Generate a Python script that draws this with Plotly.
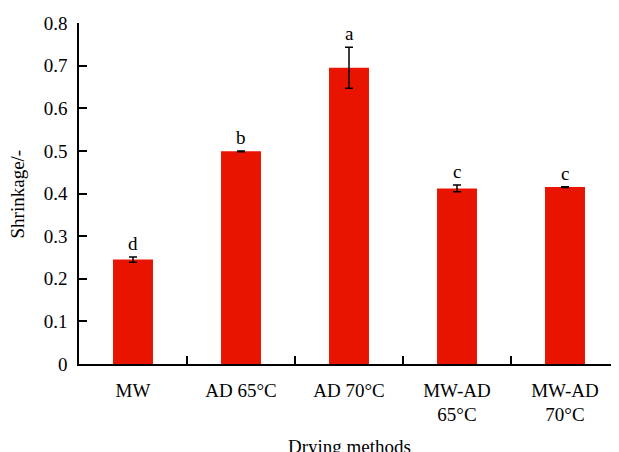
import plotly.graph_objects as go

categories = ["MW", "AD 65°C", "AD 70°C", "MW-AD<br>65°C", "MW-AD<br>70°C"]
shrinkage = [0.245, 0.499, 0.695, 0.412, 0.415]
errors = [0.006, 0.001, 0.048, 0.008, 0.001]
letters = ["d", "b", "a", "c", "c"]
y_ticks = [0, 0.1, 0.2, 0.3, 0.4, 0.5, 0.6, 0.7, 0.8]
y_tick_text = ["0", "0.1", "0.2", "0.3", "0.4", "0.5", "0.6", "0.7", "0.8"]

FONT = "Liberation Serif"
FS = 19

fig = go.Figure()
fig.add_trace(go.Bar(
    x=categories, y=shrinkage, width=0.37,
    marker=dict(color="rgb(233,20,0)", line=dict(width=0)),
    error_y=dict(type="data", array=errors, visible=True, color="black",
                 thickness=1.5, width=4),
))

annotations = []
for c, v, e, l in zip(categories, shrinkage, errors, letters):
    annotations.append(dict(x=c, y=v + e, xref="x", yref="y", text=l,
                            showarrow=False, yanchor="bottom", yshift=1,
                            font=dict(family=FONT, size=FS, color="black")))
annotations.append(dict(x=0.5, y=-0.205, xref="paper", yref="paper",
                        text="Drying methods", showarrow=False,
                        xanchor="center", yanchor="top",
                        font=dict(family=FONT, size=FS, color="black")))
annotations.append(dict(x=-0.113, y=0.5, xref="paper", yref="paper",
                        text="Shrinkage/-", showarrow=False, textangle=-90,
                        xanchor="center", yanchor="middle",
                        font=dict(family=FONT, size=FS, color="black")))

fig.update_layout(
    width=611, height=444,
    margin=dict(l=71, r=0, t=15, b=88),
    paper_bgcolor="white", plot_bgcolor="white",
    showlegend=False,
    font=dict(family=FONT, size=FS, color="black"),
    annotations=annotations,
    xaxis=dict(
        type="category", range=[-0.5, 4.5], automargin=False,
        showline=True, linecolor="black", linewidth=1.5,
        ticks="inside", tickson="boundaries", ticklen=8, tickwidth=1.5,
        tickcolor="black", showgrid=False, zeroline=False,
        ticklabelstandoff=8,
        tickfont=dict(family=FONT, size=FS, color="black"),
    ),
    yaxis=dict(
        range=[0, 0.8], tickvals=y_ticks, ticktext=y_tick_text,
        automargin=False,
        showline=True, linecolor="black", linewidth=1.5,
        ticks="inside", ticklen=8, tickwidth=1.5, tickcolor="black",
        showgrid=False, zeroline=False, ticklabelstandoff=6,
        tickfont=dict(family=FONT, size=FS, color="black"),
    ),
)

fig.write_html("out.html")
